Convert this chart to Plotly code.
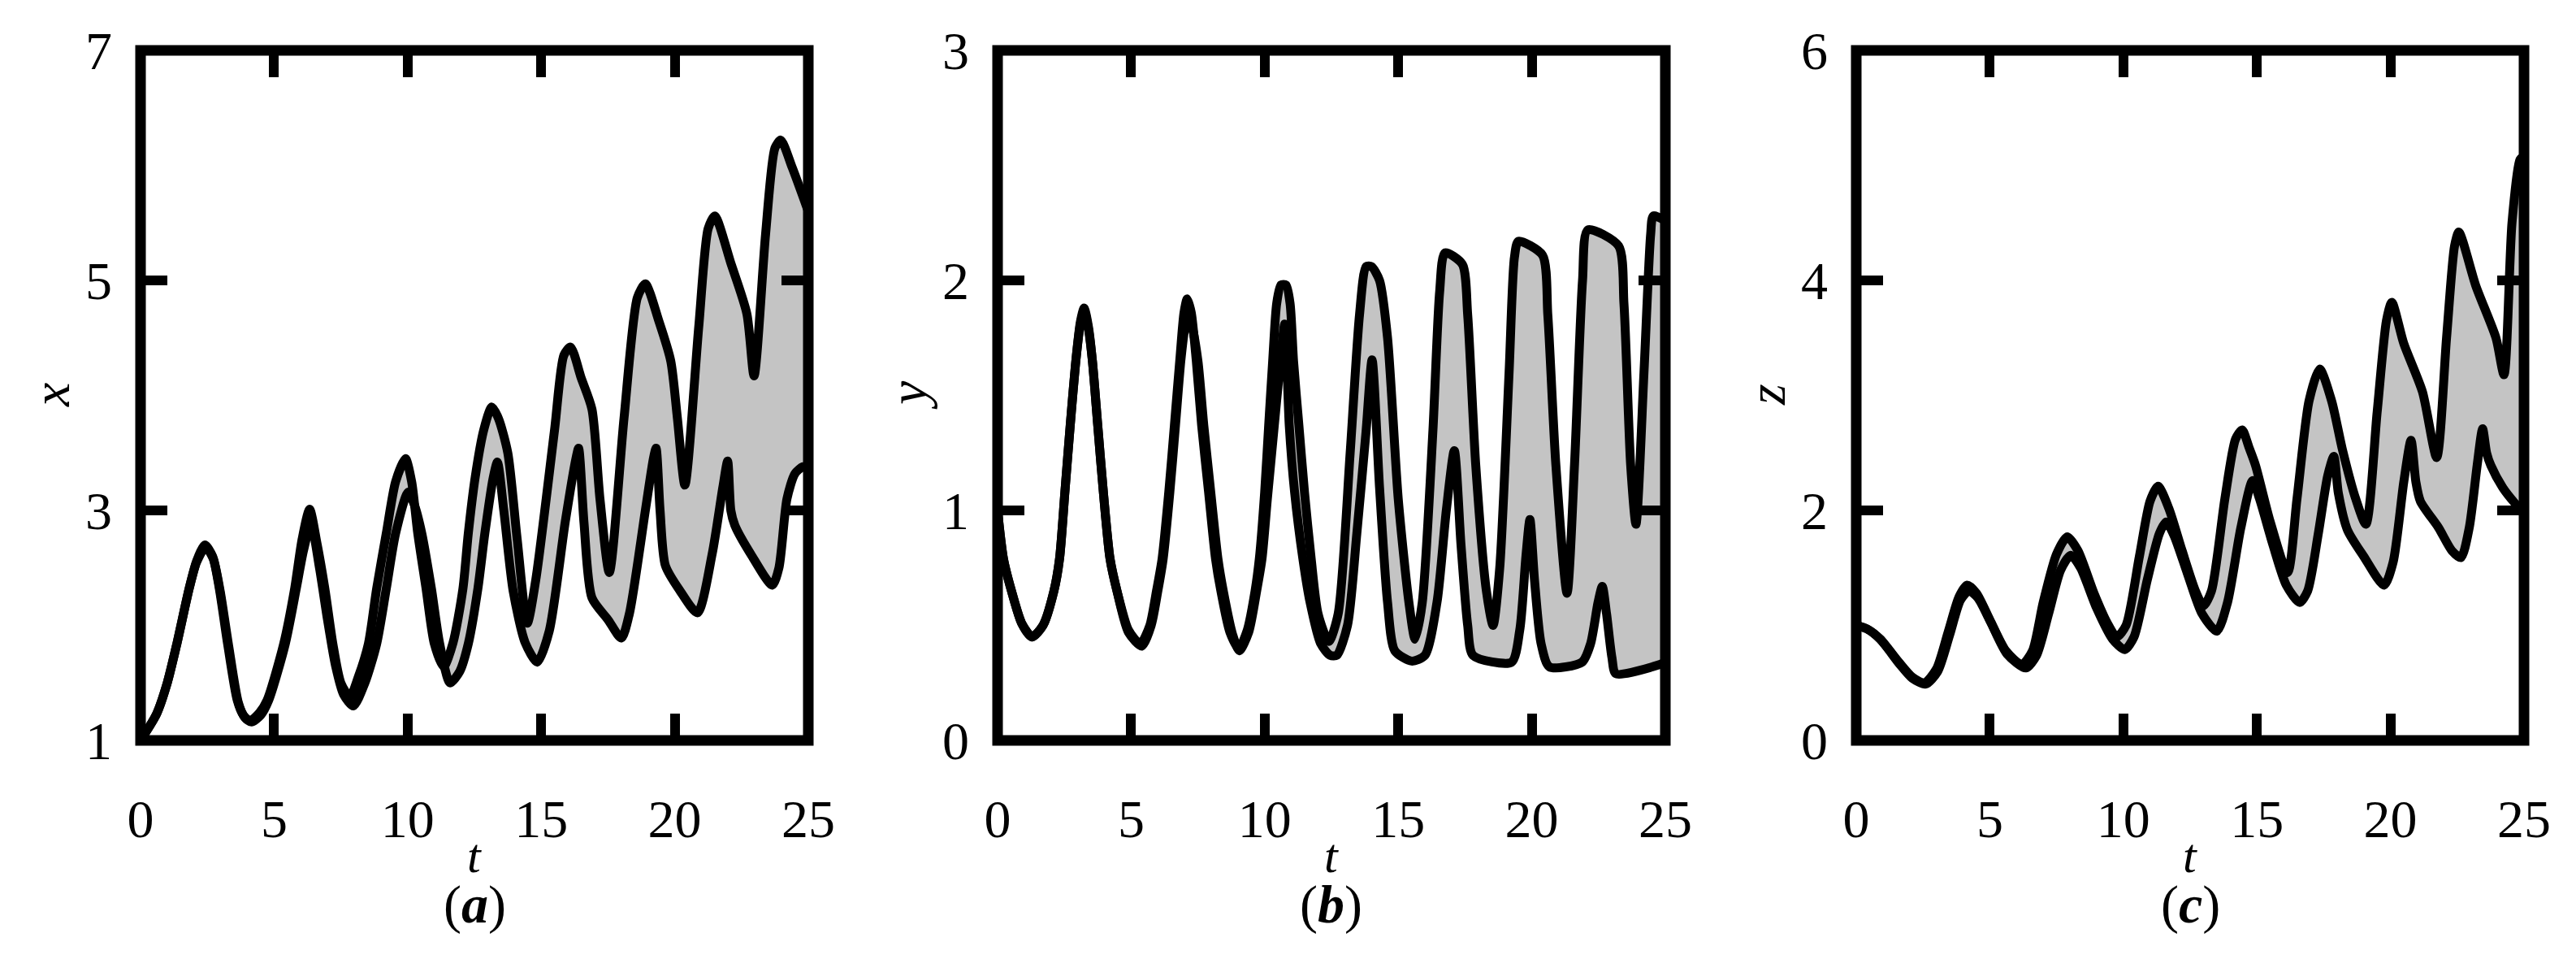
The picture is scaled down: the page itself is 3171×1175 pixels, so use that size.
import plotly.graph_objects as go

# ---------------- data ----------------
# Panel (a): x(t)
t_x_upper = [0, 0.6, 1.0, 1.36, 1.82, 2.1, 2.41, 2.7, 2.95, 3.26, 3.62, 3.85, 4.1, 4.45, 4.74, 5.36,
             5.77, 6.05, 6.33, 6.6, 6.9, 7.2, 7.5, 7.84, 8.15, 8.53, 8.84, 9.2, 9.55, 9.92, 10.15,
             10.38, 10.69, 11.0, 11.35, 11.7, 12.07, 12.27, 12.53, 12.85, 13.15, 13.4, 13.75,
             14.1, 14.48, 14.8, 15.5, 15.85, 16.1, 16.5, 16.9, 17.2, 17.55, 18.1, 18.6, 18.9, 19.4,
             19.85, 20.1, 20.38, 20.9, 21.25, 21.5, 22.1, 22.7, 22.97, 23.4, 23.75, 23.97, 24.4, 25]
x_upper = [1.0, 1.23, 1.5, 1.84, 2.32, 2.56, 2.7, 2.6, 2.32, 1.84, 1.35, 1.22, 1.17, 1.24, 1.35, 1.84,
           2.32, 2.75, 3.01, 2.72, 2.32, 1.84, 1.5, 1.38, 1.55, 1.84, 2.32, 2.8, 3.25, 3.45, 3.25,
           2.8, 2.32, 1.84, 1.64, 1.85, 2.32, 2.8, 3.29, 3.7, 3.9, 3.8, 3.5,
           2.75, 2.02, 2.4, 3.7, 4.35, 4.42, 4.15, 3.88, 3.1, 2.46, 3.8, 4.85, 4.97, 4.65,
           4.3, 3.8, 3.22, 4.6, 5.45, 5.56, 5.15, 4.71, 4.17, 5.4, 6.15, 6.22, 5.98, 5.6]
t_x_lower = [0, 0.6, 1.0, 1.36, 1.82, 2.1, 2.43, 2.72, 2.98, 3.3, 3.66, 3.9, 4.15, 4.5, 4.8, 5.42,
             5.83, 6.1, 6.38, 6.7, 7.0, 7.3, 7.6, 7.97, 8.4, 8.84, 9.2, 9.55, 10.02, 10.25, 10.53,
             10.89, 11.2, 11.59, 11.95, 12.27, 12.63, 12.89, 13.2, 13.36, 13.6, 13.95,
             14.4, 14.85, 15.3, 15.9, 16.3, 16.4, 16.6, 16.9, 17.5, 18.0, 18.3, 18.9, 19.2, 19.3,
             19.45, 19.65, 20.2, 20.85, 21.4, 21.8, 21.98, 22.1, 22.25, 22.9, 23.65, 23.9, 24.2,
             24.5, 24.8, 25]
x_lower = [1.0, 1.23, 1.5, 1.84, 2.32, 2.55, 2.68, 2.58, 2.3, 1.82, 1.33, 1.2, 1.16, 1.22, 1.35, 1.84,
           2.32, 2.65, 2.88, 2.5, 2.05, 1.65, 1.4, 1.3, 1.5, 1.84, 2.32, 2.8, 3.16, 3.05, 2.8,
           2.32, 1.84, 1.5, 1.6, 1.84, 2.32, 2.8, 3.28, 3.42, 3.0, 2.3,
           1.85, 1.68, 1.95, 2.9, 3.45, 3.54, 2.9, 2.24, 2.05, 1.89, 2.1, 3.0, 3.45, 3.54,
           3.0, 2.52, 2.3, 2.11, 2.62, 3.2, 3.43, 3.0, 2.87, 2.6, 2.35, 2.5, 3.1,
           3.32, 3.38, 3.38]

# Panel (b): y(t)
t_y_upper = [0, 0.22, 0.52, 0.9, 1.29, 1.7, 2.11, 2.32, 2.52, 2.72, 2.93, 3.1, 3.24, 3.4, 3.55, 3.75,
             3.96, 4.21, 4.47, 4.9, 5.34, 5.7, 5.95, 6.16, 6.41, 6.62, 6.82, 6.98, 7.1, 7.25, 7.44,
             7.64, 7.9, 8.16, 8.36, 8.7, 9.03, 9.35, 9.64, 9.8, 10.0, 10.15, 10.3, 10.45, 10.61,
             10.8, 10.95, 11.08, 11.28, 11.49, 11.74, 12.0, 12.4, 12.75, 13.2, 13.55, 13.8, 14.0,
             14.3, 14.6, 15.0, 15.4, 15.63, 15.9, 16.3, 16.55, 16.75, 17.4, 17.6, 17.9, 18.3, 18.55,
             18.8, 19.15, 19.35, 19.5, 20.4, 20.6, 20.9, 21.32, 21.6, 21.9, 22.1, 23.25, 23.45,
             23.7, 23.9, 24.2, 24.45, 24.55, 25]
y_upper = [1.0, 0.79, 0.65, 0.51, 0.45, 0.5, 0.65, 0.79, 1.08, 1.37, 1.65, 1.82, 1.88, 1.8, 1.65, 1.37,
           1.08, 0.79, 0.65, 0.48, 0.42, 0.5, 0.65, 0.79, 1.08, 1.37, 1.65, 1.86, 1.92, 1.86, 1.65,
           1.37, 1.08, 0.79, 0.65, 0.47, 0.4, 0.48, 0.65, 0.79, 1.08, 1.37, 1.65, 1.9, 1.98,
           1.98, 1.9, 1.65, 1.37, 1.08, 0.79, 0.55, 0.43, 0.55, 1.25, 1.85, 2.06, 2.06,
           2.0, 1.75, 1.05, 0.6, 0.44, 0.6, 1.35, 1.95, 2.12, 2.07, 1.85, 1.2, 0.65, 0.5,
           0.75, 1.6, 2.1, 2.17, 2.11, 1.85, 1.2, 0.64, 1.2, 2.0, 2.22, 2.15, 1.9,
           1.2, 0.94, 1.6, 2.2, 2.28, 2.26]
t_y_lower = [0, 0.22, 0.52, 0.9, 1.29, 1.7, 2.11, 2.32, 2.52, 2.72, 2.93, 3.1, 3.24, 3.4, 3.55, 3.75,
             3.96, 4.21, 4.47, 4.9, 5.4, 5.75, 6.0, 6.2, 6.45, 6.66, 6.86, 7.02, 7.13, 7.28, 7.5,
             7.72, 7.98, 8.25, 8.45, 8.8, 9.05, 9.4, 9.7, 9.9, 10.1, 10.36, 10.55, 10.75, 10.92,
             11.12, 11.43, 11.7, 12.1, 12.45, 12.7, 13.1, 13.45, 13.8, 14.02, 14.3, 14.6, 14.87,
             15.5, 16.0, 16.45, 16.8, 17.1, 17.35, 17.6, 17.8, 19.24, 19.55, 19.78, 19.93, 20.1,
             20.35, 20.66, 21.88, 22.2, 22.48, 22.64, 22.8, 23.0, 23.15, 24.8, 25]
y_lower = [1.0, 0.79, 0.65, 0.51, 0.45, 0.5, 0.65, 0.79, 1.08, 1.37, 1.65, 1.81, 1.87, 1.79, 1.65, 1.37,
           1.08, 0.79, 0.65, 0.47, 0.41, 0.5, 0.65, 0.79, 1.08, 1.37, 1.65, 1.8, 1.85, 1.8, 1.65,
           1.37, 1.08, 0.79, 0.65, 0.46, 0.39, 0.47, 0.65, 0.79, 1.05, 1.37, 1.6, 1.81, 1.37,
           1.08, 0.79, 0.6, 0.42, 0.37, 0.37, 0.5, 0.9, 1.35, 1.655, 1.1, 0.6, 0.39,
           0.345, 0.37, 0.6, 1.0, 1.26, 0.85, 0.5, 0.37, 0.34, 0.48, 0.8, 0.96, 0.7,
           0.42, 0.32, 0.34, 0.42, 0.6, 0.67, 0.55, 0.36, 0.29, 0.33, 0.34]

# Panel (c): z(t)
t_z_upper = [0, 0.4, 0.9, 1.6, 2.1, 2.55, 3.0, 3.45, 3.85, 4.15, 4.5, 5.0, 5.6, 6.2, 6.6, 7.0, 7.5,
             7.9, 8.3, 8.9, 9.4, 9.75, 10.1, 10.6, 11.0, 11.3, 11.7, 12.2, 12.7, 13.0, 13.3, 13.8,
             14.2, 14.45, 14.7, 14.95, 15.5, 16.15, 16.5, 16.95, 17.35, 17.8, 18.2, 18.7, 19.08,
             19.5, 19.85, 20.05, 20.5, 21.2, 21.73, 22.1, 22.4, 22.56, 23.2, 23.95, 24.25, 24.55,
             24.85, 25]
z_upper = [1.0, 0.97, 0.88, 0.68, 0.55, 0.5, 0.62, 0.95, 1.25, 1.35, 1.28, 1.05, 0.78, 0.66, 0.78, 1.2, 1.62,
           1.77, 1.65, 1.28, 1.02, 0.9, 1.0, 1.6, 2.08, 2.21, 2.02, 1.65, 1.3, 1.17, 1.3, 2.1,
           2.62, 2.7, 2.55, 2.39, 1.9, 1.46, 2.1, 2.95, 3.23, 2.95, 2.53, 2.1, 1.88,
           2.85, 3.65, 3.81, 3.45, 3.03, 2.46, 3.5, 4.3, 4.42, 3.95, 3.5, 3.18, 4.5,
           5.05, 5.08]
t_z_lower = [0, 0.4, 0.9, 1.6, 2.1, 2.6, 3.05, 3.5, 3.9, 4.22, 4.55, 5.05, 5.65, 6.35, 6.75, 7.2, 7.65,
             8.03, 8.4, 9.0, 9.6, 10.05, 10.4, 10.9, 11.35, 11.6, 11.9, 12.4, 12.95, 13.5, 13.9,
             14.4, 14.84, 15.1, 15.6, 16.1, 16.6, 16.9, 17.3, 17.65, 17.88, 18.05, 18.39, 19.0,
             19.76, 20.1, 20.5, 20.77, 20.95, 21.12, 21.8, 22.3, 22.64, 22.95, 23.25, 23.45, 23.6,
             23.76, 24.2, 24.67, 25]
z_lower = [1.0, 0.97, 0.88, 0.67, 0.54, 0.49, 0.6, 0.92, 1.22, 1.3, 1.24, 1.02, 0.75, 0.63, 0.74, 1.1, 1.48,
           1.61, 1.5, 1.15, 0.88, 0.79, 0.9, 1.4, 1.8, 1.9, 1.78, 1.45, 1.1, 0.95, 1.2,
           1.85, 2.26, 2.1, 1.7, 1.35, 1.2, 1.3, 1.8, 2.3, 2.47, 2.15, 1.83, 1.6,
           1.35, 1.55, 2.25, 2.61, 2.25, 2.08, 1.85, 1.65, 1.59, 1.85, 2.4, 2.71, 2.5,
           2.39, 2.2, 2.06, 1.98]

t_ticks = [0, 5, 10, 15, 20, 25]
t_range = [0, 25]
x_ticks = [1, 3, 5, 7]
y_ticks = [0, 1, 2, 3]
z_ticks = [0, 2, 4, 6]
var_names = ["x", "y", "z"]
panel_letters = ["a", "b", "c"]

# ---------------- styling / layout ----------------
W, H = 3171, 1175
OFF = 8  # default page body margin that the figure is drawn after
FONT = "Liberation Serif"
FILL = "rgb(196,196,196)"
panel_left = [173, 1228, 2285]
panel_w = 822
top_px, bot_px = 62, 911


def fx(p):
    return (p - OFF) / W


def fy(p):
    return 1 - (p - OFF) / H


panels = [
    (t_x_upper, x_upper, t_x_lower, x_lower, x_ticks),
    (t_y_upper, y_upper, t_y_lower, y_lower, y_ticks),
    (t_z_upper, z_upper, t_z_lower, z_lower, z_ticks),
]

fig = go.Figure()
layout = dict(
    template="none",
    width=W, height=H,
    margin=dict(l=0, r=0, t=0, b=0, pad=0, autoexpand=False),
    paper_bgcolor="white", plot_bgcolor="white",
    showlegend=False,
    font=dict(family=FONT, size=66, color="black"),
)
shapes, annotations = [], []
ydom = [fy(bot_px), fy(top_px)]

for i, (tu, vu, tl, vl, yt) in enumerate(panels):
    n = "" if i == 0 else str(i + 1)
    xa, ya = "x" + n, "y" + n
    fig.add_trace(go.Scatter(x=tl, y=vl, xaxis=xa, yaxis=ya, mode="lines",
                             line=dict(color="black", width=11, shape="spline", smoothing=0.7),
                             hoverinfo="skip"))
    fig.add_trace(go.Scatter(x=tu, y=vu, xaxis=xa, yaxis=ya, mode="lines",
                             line=dict(color="black", width=11, shape="spline", smoothing=0.7),
                             fill="tonexty", fillcolor=FILL, hoverinfo="skip"))
    common = dict(showgrid=False, zeroline=False, showline=False, mirror="ticks",
                  automargin=False,
                  ticks="inside", ticklen=33, tickwidth=12, tickcolor="black",
                  tickfont=dict(family=FONT, size=66, color="black"))
    layout["xaxis" + n] = dict(domain=[fx(panel_left[i]), fx(panel_left[i] + panel_w)],
                               anchor=ya, range=t_range,
                               tickvals=t_ticks, ticktext=[str(v) for v in t_ticks],
                               ticklabelstandoff=52, **common)
    layout["yaxis" + n] = dict(domain=ydom, anchor=xa, range=[yt[0], yt[-1]],
                               tickvals=yt, ticktext=[str(v) for v in yt],
                               ticklabelstandoff=34, **common)
    shapes.append(dict(type="rect", xref=xa + " domain", yref=ya + " domain",
                       x0=0, x1=1, y0=0, y1=1, line=dict(color="black", width=13),
                       layer="above"))
    cx = fx(panel_left[i] + panel_w / 2)
    annotations.append(dict(text="<i>t</i>", xref="paper", yref="paper", x=cx, y=fy(1053),
                            xanchor="center", yanchor="middle", showarrow=False,
                            font=dict(family=FONT, size=60, color="black")))
    annotations.append(dict(text="(<b><i>%s</i></b>)" % panel_letters[i], xref="paper", yref="paper",
                            x=cx, y=fy(1113), xanchor="center", yanchor="middle",
                            showarrow=False, font=dict(family=FONT, size=66, color="black")))
    annotations.append(dict(text="<i>%s</i>" % var_names[i], xref="paper", yref="paper",
                            x=fx(panel_left[i] - 111), y=fy(486), textangle=-90,
                            xanchor="center", yanchor="middle", showarrow=False,
                            font=dict(family=FONT, size=66, color="black")))

layout["shapes"] = shapes
layout["annotations"] = annotations
fig.update_layout(**layout)
fig.write_html("out.html")
